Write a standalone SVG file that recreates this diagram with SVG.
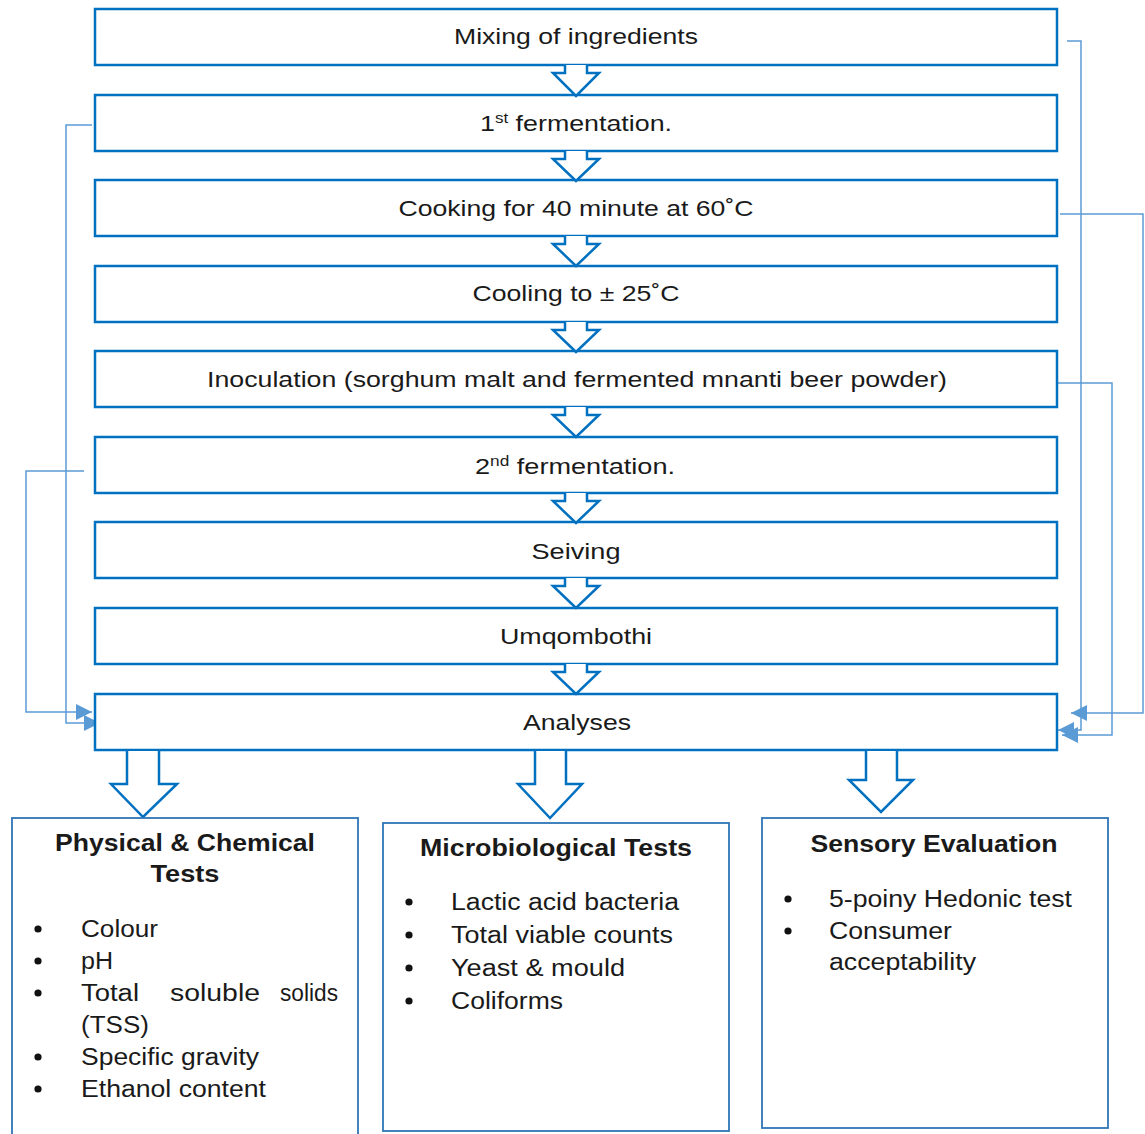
<svg xmlns="http://www.w3.org/2000/svg" width="1145" height="1134" viewBox="0 0 1145 1134">
<defs>
<style>
.box{fill:#fff;stroke:#0070C0;stroke-width:2.5}
.bbox{fill:#fff;stroke:#2E75B6;stroke-width:1.8}
.barrow{fill:#fff;stroke:#0070C0;stroke-width:2.5;stroke-linejoin:miter}
.conn{fill:none;stroke:#5B9BD5;stroke-width:1.5}
.dot{fill:#111}
text{font-family:"Liberation Sans",Arial,sans-serif;font-size:23px;fill:#1a1a1a}
.m{font-size:22px}
.c{text-anchor:middle}
.t{font-weight:bold;text-anchor:middle}
</style>
<marker id="ahb" viewBox="0 0 10 10" refX="10" refY="5" markerWidth="16" markerHeight="16" orient="auto" markerUnits="userSpaceOnUse">
<path d="M0,0 L10,5 L0,10 Z" fill="#5B9BD5"/>
</marker>
</defs>

<g id="connectors">
<path class="conn" d="M92,125 H66 V723 H100" marker-end="url(#ahb)"/>
<path class="conn" d="M84,471 H26 V712 H92" marker-end="url(#ahb)"/>
<path class="conn" d="M1067,41 H1081 V730 H1058" marker-end="url(#ahb)"/>
<path class="conn" d="M1060,214 H1143 V713 H1071" marker-end="url(#ahb)"/>
<path class="conn" d="M1055,383 H1112 V735 H1062" marker-end="url(#ahb)"/>
</g>

<g id="n1"><rect class="box" x="95" y="9" width="962" height="56"/><text class="c m" x="576" y="44" textLength="244" lengthAdjust="spacingAndGlyphs">Mixing of ingredients</text></g>
<g id="n2"><rect class="box" x="95" y="95" width="962" height="56"/><text class="c m" x="576" y="131" textLength="192" lengthAdjust="spacingAndGlyphs">1<tspan font-size="14" dy="-8">st</tspan><tspan dy="8"> fermentation.</tspan></text></g>
<g id="n3"><rect class="box" x="95" y="180" width="962" height="56"/><text class="c m" x="576" y="216" textLength="355" lengthAdjust="spacingAndGlyphs">Cooking for 40 minute at 60˚C</text></g>
<g id="n4"><rect class="box" x="95" y="266" width="962" height="56"/><text class="c m" x="576" y="301" textLength="207" lengthAdjust="spacingAndGlyphs">Cooling to ± 25˚C</text></g>
<g id="n5"><rect class="box" x="95" y="351" width="962" height="56"/><text class="c m" x="577" y="387" textLength="740" lengthAdjust="spacingAndGlyphs">Inoculation (sorghum malt and fermented mnanti beer powder)</text></g>
<g id="n6"><rect class="box" x="95" y="437" width="962" height="56"/><text class="c m" x="575" y="474" textLength="200" lengthAdjust="spacingAndGlyphs">2<tspan font-size="14" dy="-8">nd</tspan><tspan dy="8"> fermentation.</tspan></text></g>
<g id="n7"><rect class="box" x="95" y="522" width="962" height="56"/><text class="c m" x="576" y="559" textLength="89" lengthAdjust="spacingAndGlyphs">Seiving</text></g>
<g id="n8"><rect class="box" x="95" y="608" width="962" height="56"/><text class="c m" x="576" y="644" textLength="152" lengthAdjust="spacingAndGlyphs">Umqombothi</text></g>
<g id="n9"><rect class="box" x="95" y="694" width="962" height="56"/><text class="c m" x="577" y="730" textLength="108" lengthAdjust="spacingAndGlyphs">Analyses</text></g>

<g id="block-arrows">
<path class="barrow" d="M565,65 V73 H553 L576,96 L599,73 H587 V65"/>
<path class="barrow" d="M565,151 V159 H553 L576,181 L599,159 H587 V151"/>
<path class="barrow" d="M565,236 V244 H553 L576,266 L599,244 H587 V236"/>
<path class="barrow" d="M565,322 V330 H553 L576,352 L599,330 H587 V322"/>
<path class="barrow" d="M565,407 V415 H553 L576,437 L599,415 H587 V407"/>
<path class="barrow" d="M565,493 V501 H553 L576,523 L599,501 H587 V493"/>
<path class="barrow" d="M565,578 V586 H553 L576,608 L599,586 H587 V578"/>
<path class="barrow" d="M565,664 V672 H553 L576,694 L599,672 H587 V664"/>
<path class="barrow" d="M127,751 V784 H111 L143,817 L177,784 H159 V751"/>
<path class="barrow" d="M535,751 V784 H518 L550,818 L582,784 H566 V751"/>
<path class="barrow" d="M866,751 V780 H849 L881,812 L913,780 H897 V751"/>
</g>

<g id="b1"><rect class="bbox" x="12" y="818" width="346" height="330"/>
<text class="t" x="185" y="851" textLength="260" lengthAdjust="spacingAndGlyphs">Physical &amp; Chemical</text>
<text class="t" x="185" y="882" textLength="69" lengthAdjust="spacingAndGlyphs">Tests</text>
<circle class="dot" cx="38" cy="929" r="3.6"/><text x="81" y="937" textLength="77" lengthAdjust="spacingAndGlyphs">Colour</text>
<circle class="dot" cx="38" cy="961" r="3.6"/><text x="81" y="969" textLength="32" lengthAdjust="spacingAndGlyphs">pH</text>
<circle class="dot" cx="38" cy="993" r="3.6"/><text x="81" y="1001" textLength="58" lengthAdjust="spacingAndGlyphs">Total</text><text x="170" y="1001" textLength="90" lengthAdjust="spacingAndGlyphs">soluble</text><text x="280" y="1001" textLength="58" lengthAdjust="spacingAndGlyphs">solids</text>
<text x="81" y="1033" textLength="68" lengthAdjust="spacingAndGlyphs">(TSS)</text>
<circle class="dot" cx="38" cy="1057" r="3.6"/><text x="81" y="1065" textLength="178" lengthAdjust="spacingAndGlyphs">Specific gravity</text>
<circle class="dot" cx="38" cy="1089" r="3.6"/><text x="81" y="1097" textLength="185" lengthAdjust="spacingAndGlyphs">Ethanol content</text>
</g>
<g id="b2"><rect class="bbox" x="383" y="823" width="346" height="308"/>
<text class="t" x="556" y="856" textLength="272" lengthAdjust="spacingAndGlyphs">Microbiological Tests</text>
<circle class="dot" cx="409" cy="902" r="3.6"/><text x="451" y="910" textLength="228" lengthAdjust="spacingAndGlyphs">Lactic acid bacteria</text>
<circle class="dot" cx="409" cy="935" r="3.6"/><text x="451" y="943" textLength="222" lengthAdjust="spacingAndGlyphs">Total viable counts</text>
<circle class="dot" cx="409" cy="968" r="3.6"/><text x="451" y="976" textLength="174" lengthAdjust="spacingAndGlyphs">Yeast &amp; mould</text>
<circle class="dot" cx="409" cy="1001" r="3.6"/><text x="451" y="1009" textLength="112" lengthAdjust="spacingAndGlyphs">Coliforms</text>
</g>
<g id="b3"><rect class="bbox" x="762" y="818" width="346" height="310"/>
<text class="t" x="934" y="852" textLength="247" lengthAdjust="spacingAndGlyphs">Sensory Evaluation</text>
<circle class="dot" cx="788" cy="899" r="3.6"/><text x="829" y="907" textLength="243" lengthAdjust="spacingAndGlyphs">5-poiny Hedonic test</text>
<circle class="dot" cx="788" cy="931" r="3.6"/><text x="829" y="939" textLength="123" lengthAdjust="spacingAndGlyphs">Consumer</text>
<text x="829" y="970" textLength="147" lengthAdjust="spacingAndGlyphs">acceptability</text>
</g>
</svg>
